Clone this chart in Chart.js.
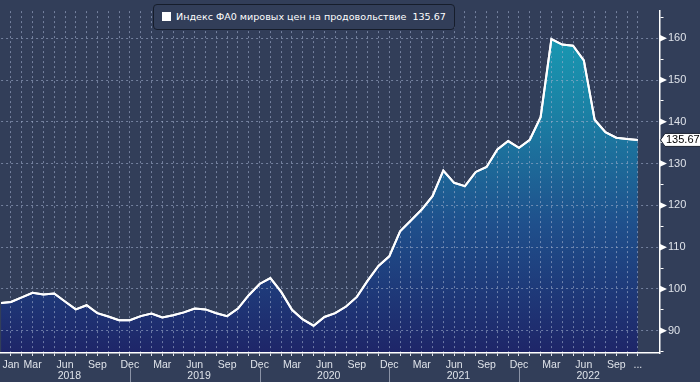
<!DOCTYPE html>
<html><head><meta charset="utf-8">
<script src="https://cdn.jsdelivr.net/npm/chart.js@4.4.0/dist/chart.umd.min.js"></script>
<style>
html,body{margin:0;padding:0;background:#323e59;}
#wrap{position:relative;width:700px;height:382px;overflow:hidden;}
canvas{display:block;}
#legend{position:absolute;left:153px;top:4px;width:302px;height:26px;box-sizing:border-box;border:1px solid #161d2b;border-radius:4px;background:#323e59;font-family:"DejaVu Sans",sans-serif;font-size:10px;color:#fff;white-space:pre;}
#legend .sw{position:absolute;left:8px;top:7px;width:9px;height:9px;background:#fff;}
#legend .tx{position:absolute;left:22px;top:5px;line-height:14px;}
</style></head><body>
<div id="wrap"><canvas id="c" width="700" height="382"></canvas><div id="legend"><span class="sw"></span><span class="tx" id="legtext"></span></div></div>
<script>
const seriesName = "Индекс ФА0 мировых цен на продовольствие";
const lastValueText = "135.67";
const months = ["Dec 2017",
 "Jan 2018","Feb 2018","Mar 2018","Apr 2018","May 2018","Jun 2018","Jul 2018","Aug 2018","Sep 2018","Oct 2018","Nov 2018","Dec 2018",
 "Jan 2019","Feb 2019","Mar 2019","Apr 2019","May 2019","Jun 2019","Jul 2019","Aug 2019","Sep 2019","Oct 2019","Nov 2019","Dec 2019",
 "Jan 2020","Feb 2020","Mar 2020","Apr 2020","May 2020","Jun 2020","Jul 2020","Aug 2020","Sep 2020","Oct 2020","Nov 2020","Dec 2020",
 "Jan 2021","Feb 2021","Mar 2021","Apr 2021","May 2021","Jun 2021","Jul 2021","Aug 2021","Sep 2021","Oct 2021","Nov 2021","Dec 2021",
 "Jan 2022","Feb 2022","Mar 2022","Apr 2022","May 2022","Jun 2022","Jul 2022","Aug 2022","Sep 2022","Oct 2022","Nov 2022"];
const values = [96.6,
 96.9,98.0,99.1,98.7,98.9,97.0,95.1,96.1,94.2,93.4,92.5,92.5,
 93.5,94.1,93.2,93.7,94.4,95.3,95.1,94.2,93.5,95.3,98.5,101.2,
 102.6,99.3,95.0,92.7,91.2,93.3,94.2,95.8,98.1,102.0,105.5,107.8,
 113.8,116.4,119.0,122.2,128.3,125.4,124.6,128.0,129.2,133.4,135.4,133.8,
 135.7,141.1,159.8,158.5,158.2,154.7,140.5,137.5,136.2,135.9,135.67];
// month index: 0 = Jan 2018
const monthTickPos = [0,2,5,8,11,14,17,20,23,26,29,32,35,38,41,44,47,50,53,56,58];
const monthTickLabels = ['Jan','Mar','Jun','Sep','Dec','Mar','Jun','Sep','Dec','Mar','Jun','Sep','Dec','Mar','Jun','Sep','Dec','Mar','Jun','Sep','...'];
const yearLabels = ['2018','2019','2020','2021','2022'];
const yearCenterPos = [5.4,17.4,29.4,41.4,53.4];
const yearSeparatorPos = [11,23,35,47];
const yLabelValues = [90,100,110,120,130,140,150,160];

// legend text, sized to fit its box
(function(){
  const el = document.getElementById('legtext');
  const txt = seriesName + "  " + lastValueText;
  el.textContent = txt;
  const m = document.createElement('canvas').getContext('2d');
  m.font = '10px "DejaVu Sans", sans-serif';
  const w = m.measureText(txt).width;
  el.style.fontSize = (10 * 270 / w).toFixed(2) + 'px';
})();

const FONT = '"Liberation Sans", Arial, sans-serif';
const gridColor = 'rgba(160,175,205,0.6)';
const labelColor = '#dfe3ea';
const points = values.map((v,i)=>({x:i-1, y:v}));

const overlay = {
  id:'overlay',
  afterDraw(chart){
    const {ctx, chartArea, scales:{x,y}} = chart;
    // redraw line above grid
    ctx.save();
    ctx.beginPath();
    ctx.rect(chartArea.left, chartArea.top, chartArea.right-chartArea.left, chartArea.bottom-chartArea.top);
    ctx.clip();
    chart.getDatasetMeta(0).dataset.draw(ctx, chartArea);
    ctx.restore();
    // y triangles
    ctx.save();
    ctx.fillStyle = '#ffffff';
    yLabelValues.forEach(v=>{
      const py = y.getPixelForValue(v);
      ctx.beginPath();
      ctx.moveTo(chartArea.right, py-3.5);
      ctx.lineTo(chartArea.right+7.5, py);
      ctx.lineTo(chartArea.right, py+3.5);
      ctx.closePath();
      ctx.fill();
    });
    // year labels and separators
    ctx.fillStyle = labelColor;
    ctx.font = '10.5px ' + FONT;
    ctx.textAlign = 'center';
    ctx.textBaseline = 'middle';
    yearLabels.forEach((t,i)=>{
      ctx.fillText(t, x.getPixelForValue(yearCenterPos[i]), 376);
    });
    ctx.strokeStyle = '#8b93a6';
    ctx.lineWidth = 1;
    yearSeparatorPos.forEach(p=>{
      const px = Math.round(x.getPixelForValue(p))+0.5;
      ctx.beginPath(); ctx.moveTo(px, 368); ctx.lineTo(px, 382); ctx.stroke();
    });
    // last value tag
    const last = values[values.length-1];
    const ty = y.getPixelForValue(last);
    const L = chartArea.right + 1;
    ctx.fillStyle = '#ffffff';
    ctx.strokeStyle = '#1a2130';
    ctx.beginPath();
    ctx.moveTo(L, ty);
    ctx.lineTo(L+4.5, ty-6.5);
    ctx.lineTo(701, ty-6.5);
    ctx.lineTo(701, ty+6.5);
    ctx.lineTo(L+4.5, ty+6.5);
    ctx.closePath();
    ctx.fill();
    ctx.stroke();
    ctx.fillStyle = '#000000';
    ctx.textAlign = 'left';
    ctx.font = '11px ' + FONT;
    ctx.fillText(lastValueText, L+5.5, ty+0.5);
    ctx.restore();
  }
};

new Chart(document.getElementById('c'), {
  type:'line',
  data:{ datasets:[{
    label: seriesName,
    data: points,
    borderColor:'#ffffff',
    borderWidth:2,
    pointRadius:0,
    tension:0,
    fill:'start',
    backgroundColor:(c)=>{
      const {ctx, chartArea} = c.chart;
      if(!chartArea) return 'rgba(30,80,140,1)';
      const g = ctx.createLinearGradient(0, chartArea.top, 0, chartArea.bottom);
      g.addColorStop(0, 'rgb(24,160,182)');
      g.addColorStop(0.3, 'rgb(27,128,164)');
      g.addColorStop(0.62, 'rgb(31,80,140)');
      g.addColorStop(1, 'rgb(30,37,104)');
      return g;
    }
  }]},
  options:{
    responsive:false, animation:false, devicePixelRatio:1,
    layout:{padding:0, autoPadding:false},
    plugins:{legend:{display:false}, tooltip:{enabled:false}},
    scales:{
      x:{
        type:'linear', min:-0.914, max:60,
        afterBuildTicks:(s)=>{ const t=[]; for(let i=0;i<=58;i++) t.push({value:i}); s.ticks=t; },
        afterFit:(s)=>{ s.height = 29; },
        ticks:{autoSkip:false, maxRotation:0, minRotation:0, padding:2.5, color:labelColor, font:{family:FONT, size:10.5},
          callback:(v)=>{ const k = monthTickPos.indexOf(v); return k>=0 ? monthTickLabels[k] : ''; }},
        grid:{z:1, color:gridColor, lineWidth:1, drawTicks:true, tickLength:3, tickColor:'#dfe3ea', tickWidth:1},
        border:{z:2, display:true, color:'#ffffff', width:1.5, dash:[2,3]}
      },
      y:{
        position:'right', min:84.67, max:166.5,
        afterBuildTicks:(s)=>{ const t=[]; for(let v=85; v<=165; v+=5) t.push({value:v}); s.ticks=t; },
        afterFit:(s)=>{ s.width = 40.5; },
        ticks:{padding:4.5, color:labelColor, font:{family:FONT, size:11},
          callback:(v)=> (yLabelValues.indexOf(v)>=0 ? String(v) : '')},
        grid:{
          z:1,
          color:(c)=> (c.tick && c.tick.value%10===0) ? gridColor : 'rgba(0,0,0,0)',
          lineWidth:1, drawTicks:true, tickLength:4,
          tickColor:(c)=> (c.tick && c.tick.value%10===0) ? 'rgba(0,0,0,0)' : '#ffffff'
        },
        border:{z:2, display:true, color:'#ffffff', width:1.5, dash:[2,3]}
      }
    }
  },
  plugins:[overlay]
});
</script>
</body></html>
